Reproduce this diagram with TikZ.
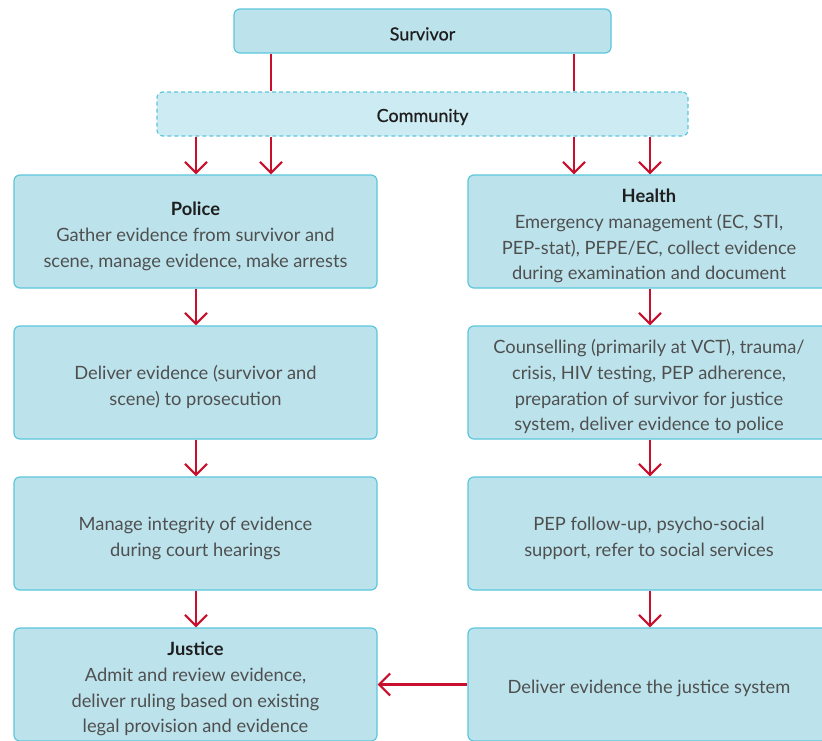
\documentclass[tikz,border=0pt]{standalone}
\usepackage{fontspec}
\setmainfont{Lato}
\newfontfamily\semib[FakeBold=0.6]{Lato}
\usetikzlibrary{arrows.meta}
\definecolor{boxfill}{HTML}{BCE3EC}
\definecolor{boxline}{HTML}{5CC6DC}
\definecolor{commfill}{HTML}{CDEBF2}
\definecolor{arrred}{HTML}{C8102E}
\definecolor{txt}{HTML}{4F4F4F}
\definecolor{ttl}{HTML}{1E1E1E}
\newcommand{\ttlx}[1]{{\bfseries\color{ttl}#1}}
\newcommand{\tp}{\rule{0pt}{23pt}}
\begin{document}
\begin{tikzpicture}[x=1pt,y=-1pt,
  box/.style={draw=boxline, fill=boxfill, line width=1.2pt, rounded corners=6pt,
    minimum width=363pt, minimum height=113pt, align=center, text=txt,
    font=\fontsize{18.3}{25.7}\selectfont, inner sep=0pt},
  rbox/.style={box, minimum width=362pt},
  topbox/.style={draw=boxline, fill=boxfill, line width=1.2pt, rounded corners=6pt,
    minimum width=377pt, minimum height=44pt, text=ttl,
    font=\fontsize{18}{20}\semib, inner sep=0pt,
    execute at begin node={\rule{0pt}{19pt}}},
  commbox/.style={topbox, fill=commfill, dashed, dash pattern=on 4pt off 3pt, minimum width=531pt},
  link/.style={draw=arrred, line width=2.2pt},
  arr/.style={link, -{Straight Barb[length=11pt,width=22pt,line width=2.2pt]}}]
\clip (0,0) rectangle (822,740);
\fill[white] (0,0) rectangle (822,740);
\coordinate (xa) at (196,0);
\coordinate (xb) at (271,0);
\coordinate (xc) at (574,0);
\coordinate (xd) at (650,0);

\node[topbox] (surv) at (422.5,31) {Survivor};
\node[commbox] (comm) at (422.5,114) {Community};

\node[box] (police) at (195.5,231.5) {\tp\ttlx{Police}\\Gather evidence from survivor and\\scene, manage evidence, make arrests};
\node[rbox] (health) at (649,231.5) {\tp\ttlx{Health}\\Emergency management (EC, STI,\\PEP-stat), PEPE/EC, collect evidence\\during examination and document};

\node[box] (l2) at (195.5,382.5) {\tp Deliver evidence (survivor and\\scene) to prosecution};
\node[rbox] (r2) at (649,382.5) {\tp Counselling (primarily at VCT), trauma/\\crisis, HIV testing, PEP adherence,\\preparation of survivor for justice\\system, deliver evidence to police};

\node[box] (l3) at (195.5,533.5) {\tp Manage integrity of evidence\\during court hearings};
\node[rbox] (r3) at (649,533.5) {\tp PEP follow-up, psycho-social\\support, refer to social services};

\node[box] (justice) at (195.5,684.5) {\tp\ttlx{Justice}\\Admit and review evidence,\\deliver ruling based on existing\\legal provision and evidence};
\node[rbox] (r4) at (649,684.5) {\rule{0pt}{21pt}Deliver evidence the justice system};

\draw[link] (surv.south -| xb) -- (comm.north -| xb);
\draw[link] (surv.south -| xc) -- (comm.north -| xc);

\draw[arr] (comm.south -| xa) -- (police.north -| xa);
\draw[arr] (comm.south -| xb) -- (police.north -| xb);
\draw[arr] (comm.south -| xc) -- (health.north -| xc);
\draw[arr] (comm.south -| xd) -- (health.north -| xd);

\draw[arr] (police.south -| xa) -- (l2.north -| xa);
\draw[arr] (l2.south -| xa) -- (l3.north -| xa);
\draw[arr] (l3.south -| xa) -- (justice.north -| xa);

\draw[arr] (health.south -| xd) -- (r2.north -| xd);
\draw[arr] (r2.south -| xd) -- (r3.north -| xd);
\draw[arr] (r3.south -| xd) -- (r4.north -| xd);

\draw[arr] (r4.west) -- (justice.east);
\end{tikzpicture}
\end{document}
